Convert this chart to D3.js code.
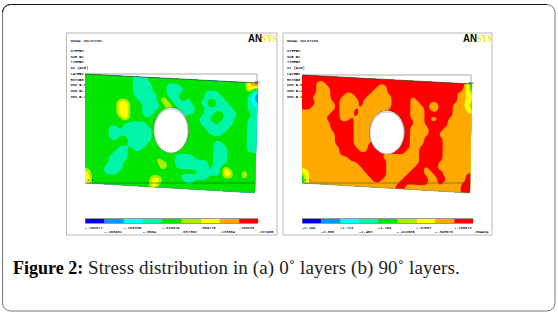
<!DOCTYPE html>
<html><head><meta charset="utf-8">
<style>html,body{margin:0;padding:0;background:#fff;overflow:hidden}svg{display:block}</style>
<script src="https://cdn.jsdelivr.net/npm/d3@7"></script></head>
<body><svg id="c" width="558" height="318"></svg>
<script>
const bandColors=["#0000e0","#0096f0","#00ffff","#00f5a8","#00e600","#a8f000","#ffff00","#ffa800","#ff0000"];
const captionBold="Figure 2:";
const captionText=" Stress distribution in (a) 0˚ layers (b) 90˚ layers.";
const headerA=["NODAL SOLUTION","","STEP=2","SUB =1","TIME=2","SX      (AVG)","LAYR=1","RSYS=0","DMX =.0338-03","SMN =-.201577","SMX =.227955"];
const headerB=["NODAL SOLUTION","","STEP=2","SUB =1","TIME=2","SY      (AVG)","LAYR=2","RSYS=0","DMX =.0338-03","SMN =-2.194","SMX =.254424"];
const ticksA=["-.202077","-.153951","-.106335","-.0584","-.010874",".037352",".084778",".133304",".180233",".227955"];
const ticksB=["-2.194","-2.008","-1.713","-1.453","-1.184","-.912565","-.67507","-.393570","-.103572",".254424"];
// stress level (index into bandColors + 1), 36 columns x 22 rows
const levelsA=[
"555555555544455555555555555555555589",
"555555555544445554445555555555555573",
"555555555544445554444555544455555542",
"555555555544444554447455544445555542",
"555555555554444575444455447444555543",
"555555577555444457544445544444455544",
"555555577555444555554445544554445554",
"555555577555445555544555445554455544",
"555555557555555555555555444544455544",
"555555554444455555555555544444555544",
"555554454444445555555555554445555544",
"555554444444445555555555555555555544",
"555554455444445555555555555445555544",
"555555555444455555555555555444555544",
"555555544544555555555555555444555555",
"555555444555555555544445555444555555",
"555554444555555655544444445444555555",
"555554445555555575544444445447555555",
"555544445555555555555555444447754755",
"655544455555555555554444445555555555",
"755555555555557755555445555555555555",
"755555555555557555555555555555555555"];
const levelsB=[
"999999999999999999999999999999999995",
"999889999999999988999999999999998985",
"999888999999999888999999999999999887",
"999888999889998888899998999999999886",
"998888998888988888899998899889998885",
"999888898888988888899998889889998887",
"998888898889888888999998889999998888",
"888888998889888889999998889889988888",
"888889998898888899999999889999988888",
"888888999998888899999998888999888888",
"888888999998888999999998888998888888",
"888888899998888999999998889999888888",
"888888899998888999999998889999888888",
"888888899998889999999998899999888888",
"888888889999889999999988899999888888",
"888888889999999998888888899999898888",
"888888888899999999888888899998888888",
"888888888888999999888888998998988888",
"988888888888899999888889998899888889",
"688888888888889999888899999889988889",
"588888888888888998888999999889888899",
"588888888888888888889988888888888899"];
const plates=[
 {x0:66.5,x1:277,levels:levelsA,header:headerA,ticks:ticksA,tl:[85,74],tr:[258,83],br:[255,193],bl:[85,183],hole:[171,131,17,22],cbar:[85,258]},
 {x0:283,x1:492,levels:levelsB,header:headerB,ticks:ticksB,tl:[302,75],tr:[472,84],br:[470,193],bl:[302,183],hole:[387,133,17,21],cbar:[302,473]}
];
const nCols=36,nRows=22,fine=4;
const cut={6:5.4,7:6.0};
const svg=d3.select("#c");
svg.append("rect").attr("x",2.5).attr("y",4.5).attr("width",552.5).attr("height",306.5).attr("rx",8)
  .attr("fill","#fff").attr("stroke","#777").attr("stroke-width",1);
svg.append("path").attr("d","M2.5,12.5A8,8 0 0 1 10.5,4.5L547,4.5").attr("fill","none").attr("stroke","#111").attr("stroke-width",1);

plates.forEach(p=>{
 const g=svg.append("g");
 g.append("rect").attr("x",p.x0).attr("y",33).attr("width",p.x1-p.x0).attr("height",202)
  .attr("fill","#fff").attr("stroke","#b8b8b8").attr("stroke-width",1);
 g.selectAll(null).data(p.header).join("text").attr("x",p.x0+4).attr("y",(d,i)=>42+i*5.75-(i>0?1.6:0))
  .attr("font-family","Liberation Mono").attr("font-size",3.7).attr("fill","#000").attr("stroke","#000").attr("stroke-width",.08).text(d=>d);
 g.append("text").attr("x",p.x1-29).attr("y",42).attr("font-family","Liberation Sans").attr("font-weight","bold")
  .attr("font-size",10).attr("textLength",14).attr("lengthAdjust","spacingAndGlyphs").attr("fill","#000").text("AN");
 g.append("text").attr("x",p.x1-15).attr("y",42).attr("font-family","Liberation Serif").attr("font-weight","bold")
  .attr("font-size",10).attr("textLength",15).attr("lengthAdjust","spacingAndGlyphs").attr("fill","#f2e400").text("SYS");
 // read-off levels, refined and softened so d3.contours gives flowing band edges
 const raw=p.levels.map(r=>[...r.padEnd(nCols,"5").slice(0,nCols)].map(Number));
 const W=nCols*fine,H=nRows*fine;
 const fineVals=new Float64Array(W*H);
 for(let j=0;j<H;j++)for(let i=0;i<W;i++)fineVals[j*W+i]=raw[Math.floor(j/fine)][Math.floor(i/fine)];
 d3.blur2({data:fineVals,width:W,height:H},1.5);
 const present=d3.range(1,10).filter(k=>raw.flat().some(v=>v>=k));
 const contours=d3.contours().size([W,H]).smooth(true)
   .thresholds(present.map(k=>cut[k]??k-0.5))(fineVals);
 const u=d3.scaleLinear().domain([0,W]).range([0,1]);
 const v=d3.scaleLinear().domain([0,H]).range([0,1]);
 const mapPt=(gx,gy)=>{const a=u(gx),b=v(gy);
   return [(1-b)*((1-a)*p.tl[0]+a*p.tr[0])+b*((1-a)*p.bl[0]+a*p.br[0]),
           (1-b)*((1-a)*p.tl[1]+a*p.tr[1])+b*((1-a)*p.bl[1]+a*p.br[1])];};
 const path=d3.geoPath(d3.geoTransform({point(x,y){const q=mapPt(x,y);this.stream.point(q[0],q[1]);}}));
 g.selectAll(null).data(contours).join("path").attr("d",path)
  .attr("fill",(d,i)=>bandColors[present[i]-1]).attr("stroke","none");
 const [tl,tr,br,bl]=[p.tl,p.tr,p.br,p.bl];
 g.append("path").attr("d",`M${tl}L${tr[0]-1},${tl[1]}L${tr[0]-1},${tr[1]}`).attr("fill","none").attr("stroke","#555").attr("stroke-width",.5);
 g.append("path").attr("d",`M${bl}L${br[0]},${bl[1]}`).attr("fill","none").attr("stroke","#3a5a20").attr("stroke-width",.6);
 g.append("path").attr("d",`M${tl}L${tr}`).attr("fill","none").attr("stroke","#333").attr("stroke-width",.6);
 g.append("path").attr("d",`M${bl}L${br}`).attr("fill","none").attr("stroke","#777").attr("stroke-width",.5);
 const [hx,hy,hrx,hry]=p.hole;
 g.append("ellipse").attr("cx",hx).attr("cy",hy-1).attr("rx",hrx+.5).attr("ry",hry+.5).attr("fill","#fff").attr("stroke","#555").attr("stroke-width",.5);
 g.append("ellipse").attr("cx",hx).attr("cy",hy).attr("rx",hrx).attr("ry",hry).attr("fill","#fff").attr("stroke","#888").attr("stroke-width",.5);
 g.append("text").attr("x",tr[0]-3).attr("y",tr[1]-.5).attr("font-family","Liberation Mono").attr("font-size",4).attr("fill","#222").text("MX");
 g.append("text").attr("x",bl[0]+2).attr("y",bl[1]-2).attr("font-family","Liberation Mono").attr("font-size",4).attr("fill","#111").text("1 X");
 const x=d3.scaleLinear().domain([0,bandColors.length]).range(p.cbar);
 g.append("rect").attr("x",p.cbar[0]).attr("y",218).attr("width",p.cbar[1]-p.cbar[0]).attr("height",6).attr("fill","#999");
 g.selectAll(null).data(bandColors).join("rect").attr("x",(d,i)=>x(i)+.5).attr("y",219)
  .attr("width",(p.cbar[1]-p.cbar[0])/bandColors.length-.3).attr("height",4).attr("fill",d=>d);
 g.selectAll(null).data(p.ticks).join("text").attr("x",(d,i)=>x(i)).attr("y",(d,i)=>i%2?233:228.5)
  .attr("font-family","Liberation Mono").attr("font-size",3.7).attr("fill","#000").attr("stroke","#000").attr("stroke-width",.08).text(d=>d);
});
const cap=svg.append("text").attr("x",13).attr("y",274).attr("font-family","Liberation Serif").attr("font-size",18).attr("fill","#222");
cap.append("tspan").attr("font-weight","bold").attr("fill","#000").text(captionBold);
cap.append("tspan").attr("font-size",19).attr("letter-spacing",.12).text(captionText);
</script></body></html>
